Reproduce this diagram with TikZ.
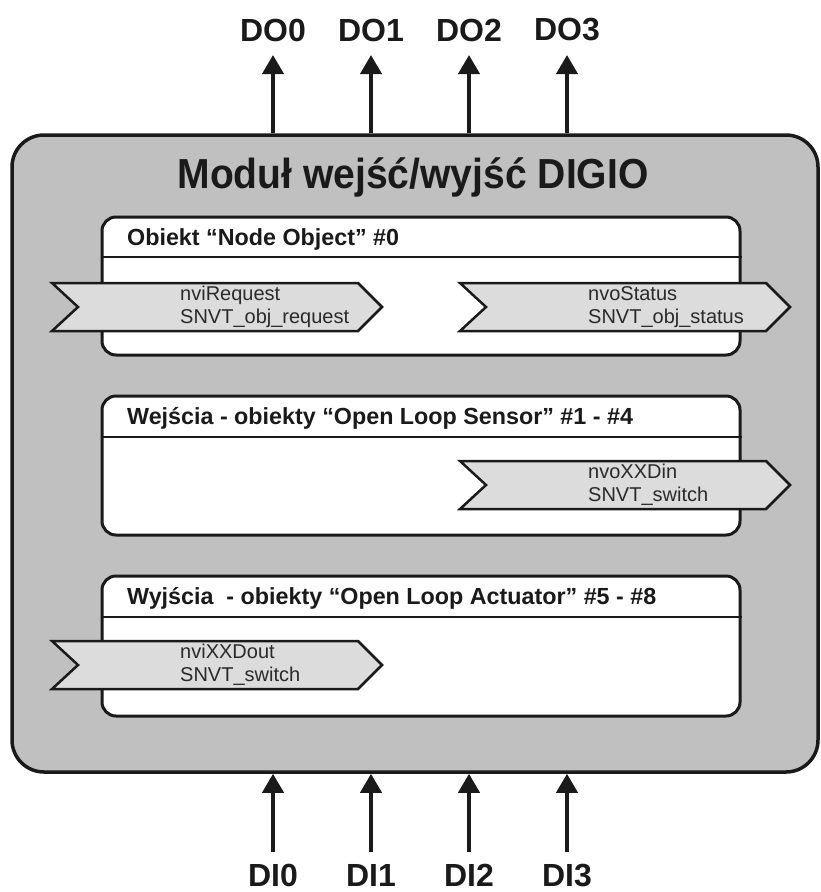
\documentclass[tikz,border=0pt]{standalone}
\usepackage{fontspec}
\usepackage{graphicx}
\setmainfont{Liberation Sans}
\usetikzlibrary{arrows.meta}
\definecolor{boxgray}{HTML}{C0C0C0}
\definecolor{siggray}{HTML}{DCDCDC}
\definecolor{ink}{HTML}{1A1A1A}
\definecolor{sigtext}{HTML}{2A2A2A}
\newcommand\drawsig[5]{%
  \draw[sigshape] (#2,#3) -- ++(306,0) -- ++(24,24) -- ++(-24,24) -- ++(-306,0) -- ++(26,-24) -- cycle;
  \node[sigtxt] (#1) at (#2+128,#3+24) {#4\\#5};}
\begin{document}
\begin{tikzpicture}[x=1pt,y=-1pt,
  outerbox/.style={draw=ink, line width=3.5pt, fill=boxgray, rounded corners=32pt, minimum width=806pt, minimum height=637pt, inner sep=0},
  objbox/.style={draw=ink, line width=3pt, fill=white, rounded corners=14pt, minimum width=638pt, inner sep=0},
  hdrline/.style={draw=ink, line width=2.5pt},
  objtitle/.style={anchor=base west, inner sep=0, font=\bfseries\fontsize{23.3}{27}\selectfont, text=ink},
  sigshape/.style={draw=ink, line width=2.5pt, fill=siggray, line join=miter},
  sigtxt/.style={anchor=west, inner sep=0, align=left, font=\fontsize{20}{23}\selectfont, text=sigtext},
  iolabel/.style={font=\bfseries\fontsize{32}{36}\selectfont, text=ink, inner sep=0},
  ioarrow/.style={draw=ink, line width=4pt, -{Triangle[width=21pt,length=19pt]}},
]
\useasboundingbox (0,0) rectangle (821,892);

% outer module
\node[outerbox] (outer) at (415,453.5) {};
\node[anchor=base, inner sep=0, font=\bfseries\fontsize{42}{46}\selectfont, text=ink] (title) at (413,188) {\scalebox{0.93}[1]{Moduł wejść/wyjść DIGIO}};

% object boxes
\node[objbox, minimum height=138pt] (b1) at (421,286) {};
\draw[hdrline] (b1.west |- 0,257) -- (b1.east |- 0,257);
\node[objtitle] (t1) at (127,245) {Obiekt “Node Object” \#0};

\node[objbox, minimum height=139pt] (b2) at (421,465.5) {};
\draw[hdrline] (b2.west |- 0,437) -- (b2.east |- 0,437);
\node[objtitle] (t2) at (127,424) {Wejścia - obiekty “Open Loop Sensor” \#1 - \#4};

\node[objbox, minimum height=140pt] (b3) at (421,646) {};
\draw[hdrline] (b3.west |- 0,617) -- (b3.east |- 0,617);
\node[objtitle] (t3) at (127,604) {Wyjścia \ - obiekty “Open Loop Actuator” \#5 - \#8};

% network variables
\drawsig{s1}{52}{283}{nviRequest}{SNVT\_obj\_request}
\drawsig{s2}{460}{283}{nvoStatus}{SNVT\_obj\_status}
\drawsig{s3}{460}{461}{nvoXXDin}{SNVT\_switch}
\drawsig{s4}{52}{641}{nviXXDout}{SNVT\_switch}

% outputs and inputs
\foreach \i/\x in {0/273,1/371,2/469,3/567}{
  \node[iolabel] (DO\i) at (\x,30) {DO\i};
  \coordinate (dotip\i) at (\x,55);
  \draw[ioarrow] (outer.north -| DO\i) -- (dotip\i);
  \node[iolabel] (DI\i) at (\x,875) {DI\i};
  \coordinate (distart\i) at (\x,852);
  \draw[ioarrow] (distart\i) -- (outer.south -| DI\i);
}
\end{tikzpicture}
\end{document}
